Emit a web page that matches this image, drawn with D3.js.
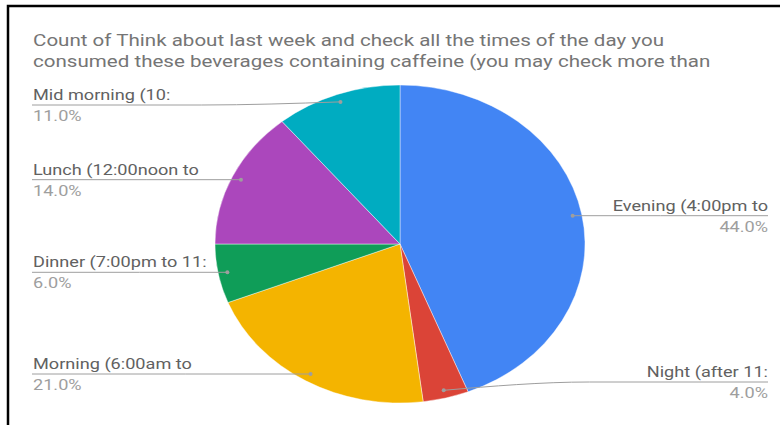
<!DOCTYPE html>
<html>
<head>
<meta charset="utf-8">
<script src="https://cdn.jsdelivr.net/npm/d3@7"></script>
<style>
  body { margin: 0; background: #fff; }
  svg { display: block; font-family: Roboto, sans-serif; }
</style>
</head>
<body>
<div id="content"></div>
<script>
// data
var categories = ['Evening (4:00pm to', 'Night (after 11:', 'Morning (6:00am to',
                  'Dinner (7:00pm to 11:', 'Lunch (12:00noon to', 'Mid morning (10:'];
var values = [44, 4, 21, 6, 14, 11];
var colors = ['#4285f4', '#db4437', '#f4b400', '#0f9d58', '#ab47bc', '#00acc1'];
var titleLines = ['Count of Think about last week and check all the times of the day you',
                  'consumed these beverages containing caffeine (you may check more than'];

var width = 780,
    height = 425;
// the source picture is stretched sideways, text included
var stretch = 1.21;

var svg = d3.select('#content')
  .append('svg')
  .attr('width', width)
  .attr('height', height);

// frame
svg.append('rect')
  .attr('x', 8)
  .attr('y', 6)
  .attr('width', 900)
  .attr('height', 600)
  .attr('fill', 'none')
  .attr('stroke', '#000')
  .attr('stroke-width', 2.5);

function place(x, y) {
  return 'translate(' + x + ',' + y + ') scale(' + stretch + ',1)';
}

// title
svg.append('g')
  .selectAll('text')
  .data(titleLines)
  .enter()
  .append('text')
    .attr('transform', function(d, i) { return place(33, 46 + i * 21); })
    .style('font-size', '17px')
    .style('fill', '#757575')
    .text(function(d) { return d; });

// pie (stretched horizontally like the source)
var cx = 400, cy = 244, rx = 185, ry = 159;
var data = categories.map(function(c, i) { return { name: c, value: values[i], color: colors[i] }; });
var total = d3.sum(values);

var pie = d3.pie().sort(null).value(function(d) { return d.value; });
var arcs = pie(data);
var arc = d3.arc().innerRadius(0).outerRadius(ry);
var dotArc = d3.arc().innerRadius(ry * 0.95).outerRadius(ry * 0.95);
var sx = rx / ry;

svg.append('g')
  .attr('transform', 'translate(' + cx + ',' + cy + ') scale(' + sx + ',1)')
  .selectAll('path')
  .data(arcs)
  .enter()
  .append('path')
    .attr('d', arc)
    .attr('fill', function(d) { return d.data.color; })
    .attr('stroke', '#fff')
    .attr('stroke-width', 0.4);

// labels
var fmt = d3.format('.1%');
var line = d3.line().curve(d3.curveMonotoneX);
var labels = svg.append('g');

arcs.forEach(function(a) {
  var c = dotArc.centroid(a);
  var px = cx + c[0] * sx,
      py = cy + c[1];
  var right = px > cx;
  var ly = Math.max(105, Math.min(382, py));
  var edge = right ? 768 : 32;
  var bend = edge + (px - edge) * 0.55;

  var pts = [[edge, ly], [bend, ly], [px, py]];
  pts.sort(function(p, q) { return p[0] - q[0]; });

  labels.append('path')
    .attr('d', line(pts))
    .attr('fill', 'none')
    .attr('stroke', '#9e9e9e')
    .attr('stroke-width', 1);

  labels.append('circle')
    .attr('cx', px)
    .attr('cy', py)
    .attr('r', 2)
    .attr('fill', '#9e9e9e');

  labels.append('text')
    .attr('transform', place(right ? 768 : 33, ly - 5))
    .attr('text-anchor', right ? 'end' : 'start')
    .style('font-size', '15px')
    .style('fill', '#616161')
    .text(a.data.name);

  labels.append('text')
    .attr('transform', place(right ? 768 : 33, ly + 16))
    .attr('text-anchor', right ? 'end' : 'start')
    .style('font-size', '15px')
    .style('fill', '#9e9e9e')
    .text(fmt(a.data.value / total));
});
</script>
</body>
</html>
